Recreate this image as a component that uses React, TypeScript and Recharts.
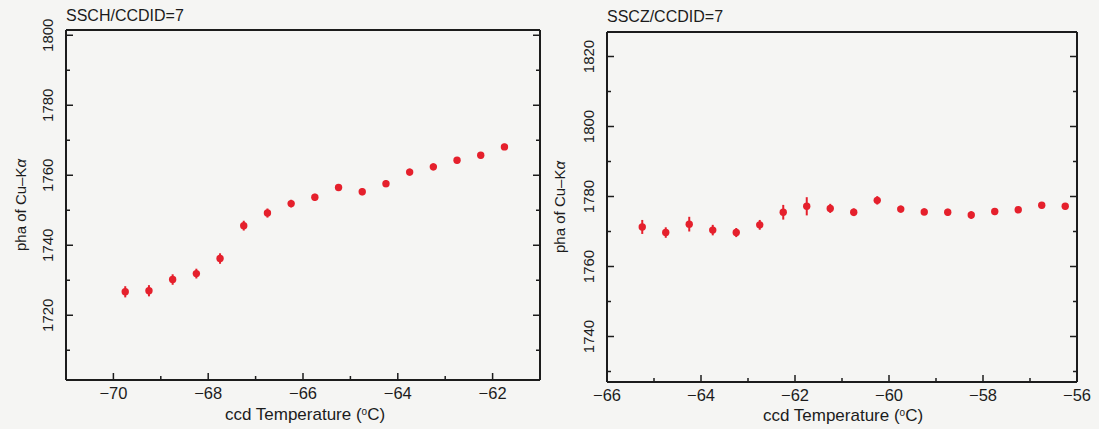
import { ScatterChart, Scatter, XAxis, YAxis, ErrorBar } from "recharts"

const FONT = '"Liberation Sans", Arial, Helvetica, sans-serif'
const RED = "#e5202c"
const INK = "#1c1c1c"

// SSCH / CCDID=7
const chTemp = [-69.75, -69.25, -68.75, -68.25, -67.75, -67.25, -66.75, -66.25, -65.75, -65.25, -64.75, -64.25, -63.75, -63.25, -62.75, -62.25, -61.75]
const chPha = [1726.7, 1727.0, 1730.2, 1731.9, 1736.2, 1745.6, 1749.2, 1751.9, 1753.7, 1756.5, 1755.3, 1757.6, 1760.9, 1762.4, 1764.3, 1765.7, 1768.1]
const chErr = [1.6, 1.6, 1.5, 1.4, 1.5, 1.4, 1.3, 1.1, 1.0, 1.0, 1.0, 1.0, 1.0, 1.0, 0.9, 0.9, 0.9]

// SSCZ / CCDID=7
const czTemp = [-65.25, -64.75, -64.25, -63.75, -63.25, -62.75, -62.25, -61.75, -61.25, -60.75, -60.25, -59.75, -59.25, -58.75, -58.25, -57.75, -57.25, -56.75, -56.25]
const czPha = [1771.3, 1769.7, 1772.1, 1770.4, 1769.7, 1771.9, 1775.5, 1777.2, 1776.6, 1775.5, 1778.9, 1776.4, 1775.6, 1775.5, 1774.7, 1775.7, 1776.2, 1777.5, 1777.2]
const czErr = [2.0, 1.5, 2.1, 1.5, 1.3, 1.4, 2.1, 2.6, 1.3, 1.1, 1.2, 1.0, 1.0, 1.0, 1.1, 1.0, 0.9, 0.9, 0.9]

// ticks (every value gets a tick mark, labelled ones are the majors)
const chXTicks = [-71, -70, -69, -68, -67, -66, -65, -64, -63, -62, -61]
const chXLabels = [-70, -68, -66, -64, -62]
const chYTicks = [1710, 1720, 1730, 1740, 1750, 1760, 1770, 1780, 1790, 1800]
const chYLabels = [1720, 1740, 1760, 1780, 1800]

const czXTicks = [-66, -65, -64, -63, -62, -61, -60, -59, -58, -57, -56]
const czXLabels = [-66, -64, -62, -60, -58, -56]
const czYTicks = [1730, 1740, 1750, 1760, 1770, 1780, 1790, 1800, 1810, 1820]
const czYLabels = [1740, 1760, 1780, 1800, 1820]

type Side = "bottom" | "top" | "left" | "right"

const makeTick = (side: Side, labels: number[]) => (props: any) => {
  const { x, y, payload } = props
  const v = payload.value as number
  const major = labels.includes(v)
  const len = major ? 7 : 4
  const txt = String(v).replace("-", "\u2212")
  if (side === "bottom") {
    return (
      <g>
        <line x1={x} x2={x} y1={y} y2={y - len} stroke={INK} strokeWidth={1.5} />
        {major && (
          <text x={x} y={y + 19} textAnchor="middle" fontSize={16.5} fontFamily={FONT} fill={INK}>
            {txt}
          </text>
        )}
      </g>
    )
  }
  if (side === "top") {
    return <line x1={x} x2={x} y1={y} y2={y + len} stroke={INK} strokeWidth={1.5} />
  }
  if (side === "left") {
    return (
      <g>
        <line x1={x} x2={x + len} y1={y} y2={y} stroke={INK} strokeWidth={1.5} />
        {major && (
          <text
            x={x - 19}
            y={y}
            transform={`rotate(-90 ${x - 19} ${y})`}
            textAnchor="middle"
            dominantBaseline="central"
            fontSize={15}
            fontFamily={FONT}
            fill={INK}
          >
            {txt}
          </text>
        )}
      </g>
    )
  }
  return <line x1={x} x2={x - len} y1={y} y2={y} stroke={INK} strokeWidth={1.5} />
}

const Dot = (p: any) => <circle cx={p.cx} cy={p.cy} r={3.7} fill={RED} />

interface PanelProps {
  left: number
  width: number
  yAxisW: number
  rightW: number
  topH: number
  bottomH: number
  temp: number[]
  pha: number[]
  err: number[]
  xDomain: [number, number]
  yDomain: [number, number]
  xTicks: number[]
  xLabels: number[]
  yTicks: number[]
  yLabels: number[]
}

function Panel(p: PanelProps) {
  const data = p.temp.map((t, i) => ({ t, pha: p.pha[i], err: p.err[i] }))
  const axisCommon = {
    type: "number" as const,
    allowDataOverflow: true,
    interval: 0 as const,
    tickSize: 0,
    tickMargin: 0,
    tickLine: false,
    axisLine: { stroke: INK, strokeWidth: 2 },
  }
  return (
    <div style={{ position: "absolute", left: p.left, top: 0 }}>
      <ScatterChart width={p.width} height={429} margin={{ top: 0, right: 0, bottom: 0, left: 0 }}>
        <XAxis {...axisCommon} dataKey="t" domain={p.xDomain} ticks={p.xTicks} height={p.bottomH} tick={makeTick("bottom", p.xLabels)} />
        <XAxis {...axisCommon} xAxisId="top" orientation="top" domain={p.xDomain} ticks={p.xTicks} height={p.topH} tick={makeTick("top", p.xLabels)} />
        <YAxis {...axisCommon} dataKey="pha" domain={p.yDomain} ticks={p.yTicks} width={p.yAxisW} tick={makeTick("left", p.yLabels)} />
        <YAxis {...axisCommon} yAxisId="right" orientation="right" domain={p.yDomain} ticks={p.yTicks} width={p.rightW} tick={makeTick("right", p.yLabels)} />
        <Scatter data={data} shape={Dot} isAnimationActive={false}>
          <ErrorBar dataKey="err" direction="y" width={0} stroke={RED} strokeWidth={2} isAnimationActive={false} />
        </Scatter>
      </ScatterChart>
    </div>
  )
}

function AxisTitles({ title, tx, ty, xMid, xBase, yX, yMid }: { title: string; tx: number; ty: number; xMid: number; xBase: number; yX: number; yMid: number }) {
  return (
    <g fontFamily={FONT} fill={INK}>
      <text x={tx} y={ty} fontSize={16}>
        {title}
      </text>
      <text x={xMid} y={xBase} textAnchor="middle" fontSize={17}>
        ccd Temperature (
        <tspan fontSize={10} dy={-5}>
          o
        </tspan>
        <tspan dy={5}>C)</tspan>
      </text>
      <text x={yX} y={yMid} transform={`rotate(-90 ${yX} ${yMid})`} textAnchor="middle" dominantBaseline="central" fontSize={15}>
        pha of Cu–K<tspan fontStyle="italic">α</tspan>
      </text>
    </g>
  )
}

export default function App() {
  return (
    <div style={{ position: "absolute", left: 0, top: 0, width: 1099, height: 429, background: "#f5f5f3", overflow: "hidden" }}>
      <Panel
        left={0}
        width={550}
        yAxisW={66}
        rightW={10}
        topH={30}
        bottomH={49}
        temp={chTemp}
        pha={chPha}
        err={chErr}
        xDomain={[-71, -61]}
        yDomain={[1701.5, 1801.5]}
        xTicks={chXTicks}
        xLabels={chXLabels}
        yTicks={chYTicks}
        yLabels={chYLabels}
      />
      <Panel
        left={540}
        width={559}
        yAxisW={67}
        rightW={22}
        topH={32}
        bottomH={47}
        temp={czTemp}
        pha={czPha}
        err={czErr}
        xDomain={[-66, -56]}
        yDomain={[1727, 1827]}
        xTicks={czXTicks}
        xLabels={czXLabels}
        yTicks={czYTicks}
        yLabels={czYLabels}
      />
      <svg width={1099} height={429} style={{ position: "absolute", left: 0, top: 0, pointerEvents: "none" }}>
        <AxisTitles title="SSCH/CCDID=7" tx={66} ty={21} xMid={305} xBase={420} yX={20} yMid={205} />
        <AxisTitles title="SSCZ/CCDID=7" tx={607} ty={22} xMid={843} xBase={421} yX={559} yMid={207} />
      </svg>
    </div>
  )
}
